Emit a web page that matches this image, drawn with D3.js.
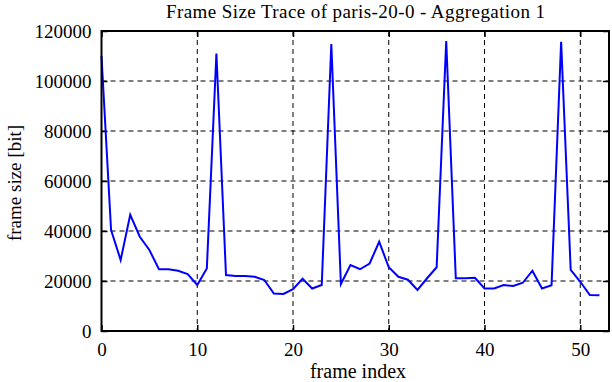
<!DOCTYPE html>
<html><head><meta charset="utf-8">
<script src="https://cdn.jsdelivr.net/npm/d3@7"></script>
<style>body{margin:0;background:#fff}svg{display:block}text{font-family:"Liberation Serif","Times New Roman",serif;fill:#000}</style>
</head><body>
<svg id="c" width="612" height="382"></svg>
<script>
const frameIndex = d3.range(0, 53);
const frameSize = [110000, 40400, 28400, 46500, 37700, 32400, 24700, 24700, 24100, 22800,
  18400, 25000, 111000, 22400, 22000, 22000, 21700, 20400, 15000, 14800,
  16700, 20900, 17000, 18400, 114800, 18800, 26400, 24700, 27000, 35700,
  25500, 21700, 20500, 16400, 21100, 25500, 116000, 21100, 21100, 21300,
  17000, 17000, 18400, 18000, 19300, 24100, 17000, 18300, 115700, 24400,
  19700, 14400, 14300];
const xTicks = [0, 10, 20, 30, 40, 50];
const yTicks = [0, 20000, 40000, 60000, 80000, 100000, 120000];
const title = "Frame Size Trace of paris-20-0 - Aggregation 1";

const svg = d3.select("#c");
const L = 101.5, R = 609, T = 31, B = 331;
const x = d3.scaleLinear().domain([0, 53]).range([L, R]);
const y = d3.scaleLinear().domain([0, 120000]).range([B, T]);

// grid
const g = svg.append("g");
g.selectAll(".gx").data(xTicks.filter(d => d > 0)).enter().append("line")
  .attr("x1", d => x(d)).attr("x2", d => x(d)).attr("y1", T).attr("y2", B)
  .attr("stroke", "#000").attr("stroke-width", 1).attr("stroke-dasharray", "5,4");
g.selectAll(".gy").data(yTicks.filter(d => d > 0 && d < 120000)).enter().append("line")
  .attr("y1", d => y(d)).attr("y2", d => y(d)).attr("x1", L).attr("x2", R)
  .attr("stroke", "#000").attr("stroke-width", 1).attr("stroke-dasharray", "5,4");

// axes with inward ticks
const ax = (sel) => sel.selectAll("path").remove();
svg.append("g").attr("transform", `translate(0,${B})`)
  .call(d3.axisBottom(x).tickValues(xTicks).tickSize(-6).tickPadding(25))
  .call(ax).call(s => s.selectAll("text").attr("font-size", 19).attr("dy", 0))
  .call(s => s.selectAll("line").attr("stroke-width", 1.5));
svg.append("g").attr("transform", `translate(0,${T})`)
  .call(d3.axisTop(x).tickValues(xTicks).tickSize(-6).tickFormat(""))
  .call(ax).call(s => s.selectAll("line").attr("stroke-width", 1.5));
svg.append("g").attr("transform", `translate(${L},0)`)
  .call(d3.axisLeft(y).tickValues(yTicks).tickSize(-6).tickPadding(10).tickFormat(d3.format("d")))
  .call(ax).call(s => s.selectAll("text").attr("font-size", 19).attr("dy", "0.33em"))
  .call(s => s.selectAll("line").attr("stroke-width", 1.5));
svg.append("g").attr("transform", `translate(${R},0)`)
  .call(d3.axisRight(y).tickValues(yTicks).tickSize(-6).tickFormat(""))
  .call(ax).call(s => s.selectAll("line").attr("stroke-width", 1.5));

// data line
const line = d3.line().x((d, i) => x(frameIndex[i])).y(d => y(d));
svg.append("path").datum(frameSize).attr("d", line)
  .attr("fill", "none").attr("stroke", "#0000ff").attr("stroke-width", 2).attr("stroke-linejoin", "miter");

// border
svg.append("rect").attr("x", L).attr("y", T).attr("width", R - L).attr("height", B - T)
  .attr("fill", "none").attr("stroke", "#000").attr("stroke-width", 2);

// labels
svg.append("text").attr("x", 355.5).attr("y", 18).attr("text-anchor", "middle").attr("font-size", 19)
  .attr("textLength", 379).attr("lengthAdjust", "spacing").text(title);
svg.append("text").attr("x", 358).attr("y", 378).attr("text-anchor", "middle").attr("font-size", 20).text("frame index");
svg.append("text").attr("transform", "translate(21,183) rotate(-90)").attr("text-anchor", "middle").attr("font-size", 19).text("frame size [bit]");
</script>
</body></html>
